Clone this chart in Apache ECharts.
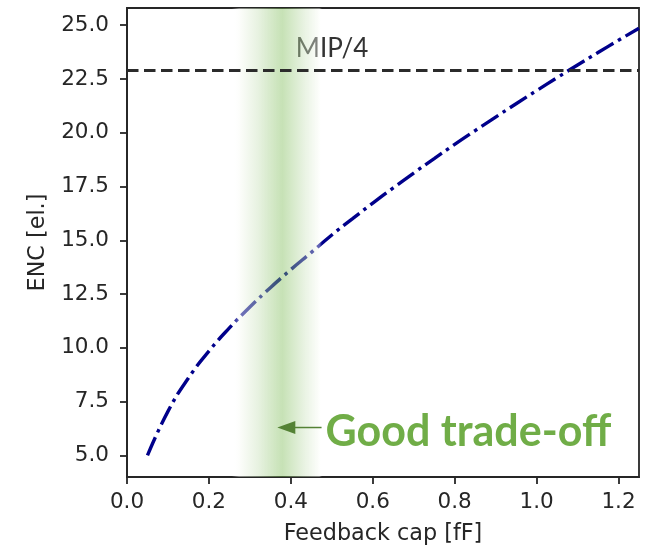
<!DOCTYPE html>
<html>
<head>
  <meta charset="utf-8">
  <style>
    html, body { margin: 0; padding: 0; background: #fff; }
  </style>
</head>
<body>
  <div id="main" style="width: 654px; height: 550px"></div>
</body>
<script src="https://cdn.jsdelivr.net/npm/echarts@6/dist/echarts.min.js"></script>
<script>
  // feedback capacitance [fF] and noise
  var capValues = [0.05, 0.10, 0.15, 0.20, 0.25, 0.30, 0.35, 0.40, 0.45, 0.50,
    0.55, 0.60, 0.65, 0.70, 0.75, 0.80, 0.85, 0.90, 0.95, 1.00,
    1.05, 1.10, 1.15, 1.20, 1.25];
  var encValues = [5.0, 7.05, 8.6, 9.85, 10.93, 11.9, 12.8, 13.64, 14.44, 15.25,
    16.0, 16.73, 17.44, 18.13, 18.8, 19.46, 20.1, 20.73, 21.35, 21.96,
    22.56, 23.15, 23.73, 24.3, 24.86];
  var xTickValues = [0, 0.2, 0.4, 0.6, 0.8, 1.0, 1.2];
  var yTickValues = [5, 7.5, 10, 12.5, 15, 17.5, 20, 22.5, 25];
  var mipLevel = 22.9;
  var bandRange = [0.256, 0.476];
  var arrowRange = [0.367, 0.475];
  var arrowLevel = 6.3;

  var axisColor = '#262626';
  var tickFont = 'DejaVu Sans';

  var chart = echarts.init(document.getElementById('main'));

  chart.setOption({
    animation: false,
    grid: {
      left: 127, right: 15, top: 8, bottom: 71,
      show: true, borderColor: axisColor, borderWidth: 1.8,
      backgroundColor: 'transparent'
    },
    xAxis: {
      type: 'value', min: 0, max: 1.25,
      name: 'Feedback cap [fF]', nameLocation: 'middle', nameGap: 46,
      nameTextStyle: { fontFamily: tickFont, fontSize: 22.3, color: axisColor },
      axisLine: { show: true, onZero: false, lineStyle: { color: axisColor, width: 1.8 } },
      axisTick: { show: true, inside: false, length: 7, customValues: xTickValues,
        lineStyle: { color: axisColor, width: 1.8 } },
      axisLabel: { customValues: xTickValues, margin: 14, fontFamily: tickFont, fontSize: 21.5,
        color: axisColor, formatter: function (v) { return v.toFixed(1); } },
      splitLine: { show: false }
    },
    yAxis: {
      type: 'value', min: 4.0, max: 25.8,
      name: 'ENC [el.]', nameLocation: 'middle', nameGap: 78,
      nameTextStyle: { fontFamily: tickFont, fontSize: 22.3, color: axisColor },
      axisLine: { show: true, onZero: false, lineStyle: { color: axisColor, width: 1.8 } },
      axisTick: { show: true, inside: false, length: 7, customValues: yTickValues,
        lineStyle: { color: axisColor, width: 1.8 } },
      axisLabel: { customValues: yTickValues, margin: 18, fontFamily: tickFont, fontSize: 21.5,
        color: axisColor, formatter: function (v) { return v.toFixed(1); } },
      splitLine: { show: false }
    },
    series: [{
      name: 'ENC',
      type: 'line',
      z: 2,
      data: capValues.map(function (c, i) { return [c, encValues[i]]; }),
      showSymbol: false,
      smooth: 0.5,
      lineStyle: { color: '#00008b', width: 3.4, type: [20, 5.3, 3.4, 5.3], cap: 'butt' },
      markLine: {
        silent: true,
        symbol: 'none',
        label: { show: false },
        lineStyle: { color: '#2b2b2b', width: 3.2, type: [11.5, 5.5] },
        data: [{ yAxis: mipLevel }]
      }
    }, {
      name: 'band',
      type: 'line',
      z: 5,
      data: [],
      markArea: {
        silent: true,
        z: 5,
        itemStyle: {
          color: new echarts.graphic.LinearGradient(0, 0, 1, 0, [
            { offset: 0, color: 'rgba(255,255,255,0)' },
            { offset: 0.08, color: 'rgba(250,252,247,0.45)' },
            { offset: 0.3, color: 'rgba(200,225,185,0.45)' },
            { offset: 0.56, color: 'rgba(120,185,80,0.42)' },
            { offset: 0.8, color: 'rgba(200,225,185,0.42)' },
            { offset: 0.97, color: 'rgba(250,252,247,0.4)' },
            { offset: 1, color: 'rgba(255,255,255,0)' }
          ])
        },
        data: [[{ xAxis: bandRange[0] }, { xAxis: bandRange[1] }]]
      }
    }]
  });

  // annotations placed from data coordinates
  var mipPos = chart.convertToPixel({ gridIndex: 0 }, [0.412, mipLevel]);
  var tip = chart.convertToPixel({ gridIndex: 0 }, [arrowRange[0], arrowLevel]);
  var tail = chart.convertToPixel({ gridIndex: 0 }, [arrowRange[1], arrowLevel]);
  var headLen = 18, headHalf = 6.5;

  chart.setOption({
    graphic: [{
      type: 'text', z: 1,
      x: mipPos[0], y: mipPos[1] - 22,
      style: { text: 'MIP/4', fontFamily: 'Lato', fontSize: 26, fill: '#333',
        verticalAlign: 'middle', align: 'left' }
    }, {
      type: 'line', z: 20,
      shape: { x1: tip[0] + headLen - 1, y1: tip[1], x2: tail[0], y2: tail[1] },
      style: { stroke: '#548235', lineWidth: 1.5 }
    }, {
      type: 'polygon', z: 20,
      shape: { points: [[tip[0], tip[1]], [tip[0] + headLen, tip[1] - headHalf], [tip[0] + headLen, tip[1] + headHalf]] },
      style: { fill: '#548235' }
    }, {
      type: 'text', z: 20,
      x: tail[0] + 4, y: tip[1] + 5,
      style: { text: 'Good trade-off', fontFamily: 'Lato', fontWeight: 'bold', fontSize: 43,
        fill: '#70ad47', verticalAlign: 'middle', align: 'left' }
    }]
  });
</script>
</html>
